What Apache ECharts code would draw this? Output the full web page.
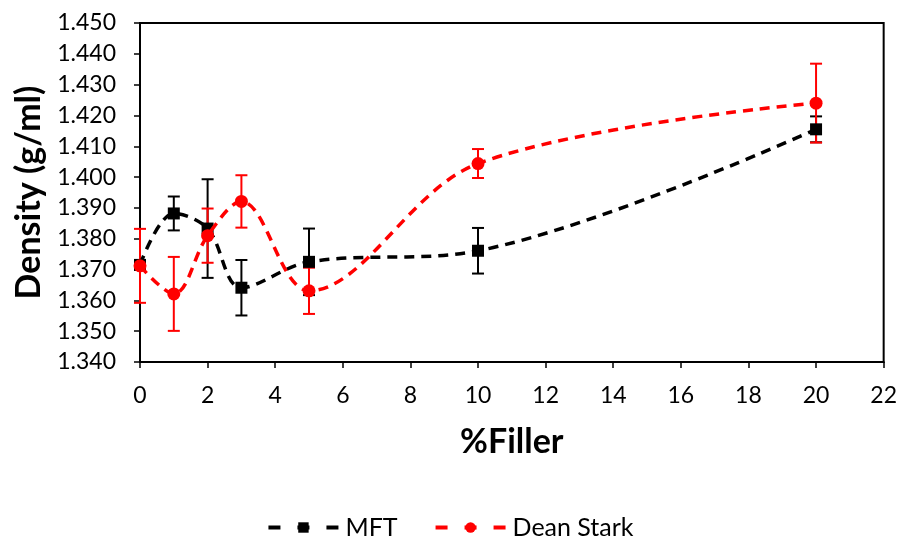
<!DOCTYPE html>
<html>
<head>
<meta charset="utf-8">
<script src="https://cdn.jsdelivr.net/npm/echarts@6/dist/echarts.min.js"></script>
<style>
  html, body { margin: 0; padding: 0; background: #fff; }
  #chart { width: 900px; height: 537px; }
</style>
</head>
<body>
<div id="chart"></div>
<script>
// Filler content (%) for each measurement
const filler = [0, 1, 2, 3, 5, 10, 20];

// MFT density (g/ml) and its error
const mftDensity = [1.3715, 1.3882, 1.3833, 1.3641, 1.3725, 1.3761, 1.4155];
const mftError   = [0.0000, 0.0055, 0.0160, 0.0090, 0.0108, 0.0074, 0.0042];

// Dean Stark density (g/ml) and its error
const dsDensity = [1.3712, 1.3621, 1.3810, 1.3921, 1.3631, 1.4044, 1.4240];
const dsError   = [0.0120, 0.0120, 0.0088, 0.0085, 0.0075, 0.0047, 0.0128];

const seriesNames = ['MFT', 'Dean Stark'];
const FONT = 'Lato, "Open Sans", sans-serif';

function points(xs, ys) { return xs.map((x, i) => [x, ys[i]]); }
function errRows(xs, ys, es) { return xs.map((x, i) => [x, ys[i] - es[i], ys[i] + es[i]]); }

function errorBars(color) {
  return function (params, api) {
    const x = api.value(0);
    const lo = api.coord([x, api.value(1)]);
    const hi = api.coord([x, api.value(2)]);
    const cap = 6;
    const style = { stroke: color, lineWidth: 2 };
    return {
      type: 'group',
      children: [
        { type: 'line', shape: { x1: lo[0], y1: lo[1], x2: hi[0], y2: hi[1] }, style },
        { type: 'line', shape: { x1: lo[0] - cap, y1: lo[1], x2: lo[0] + cap, y2: lo[1] }, style },
        { type: 'line', shape: { x1: hi[0] - cap, y1: hi[1], x2: hi[0] + cap, y2: hi[1] }, style }
      ]
    };
  };
}

const chart = echarts.init(document.getElementById('chart'), null, { renderer: 'canvas' });

chart.setOption({
  animation: false,
  backgroundColor: '#fff',
  grid: {
    left: 140, right: 16, top: 23, bottom: 175,
    show: true, borderColor: '#000', borderWidth: 2, backgroundColor: 'transparent'
  },
  legend: {
    top: 510,
    left: 'center',
    itemWidth: 70,
    itemHeight: 13,
    itemGap: 36,
    data: seriesNames,
    lineStyle: { width: 4, type: [12, 17] },
    textStyle: { fontFamily: FONT, fontSize: 25, color: '#000', padding: [0, 0, 0, 2] }
  },
  xAxis: {
    type: 'value',
    min: 0, max: 22, interval: 2,
    name: '%Filler',
    nameLocation: 'middle',
    nameGap: 63,
    nameTextStyle: { fontFamily: FONT, fontSize: 34, fontWeight: 'bold', color: '#000' },
    axisLine: { onZero: false, lineStyle: { color: '#000', width: 2 } },
    axisTick: { show: true, inside: false, length: 6, lineStyle: { color: '#000', width: 1.5 } },
    axisLabel: { fontFamily: FONT, fontSize: 23, color: '#000', margin: 22 },
    splitLine: { show: false }
  },
  yAxis: {
    type: 'value',
    min: 1.34, max: 1.45, interval: 0.01,
    name: 'Density (g/ml)',
    nameLocation: 'middle',
    nameGap: 91,
    nameTextStyle: { fontFamily: FONT, fontSize: 34, fontWeight: 'bold', color: '#000' },
    axisLine: { lineStyle: { color: '#000', width: 2 } },
    axisTick: { show: true, inside: false, length: 6, lineStyle: { color: '#000', width: 1.5 } },
    axisLabel: {
      fontFamily: FONT, fontSize: 23, color: '#000', margin: 24,
      formatter: v => v.toFixed(3)
    },
    splitLine: { show: false }
  },
  series: [
    {
      name: 'MFT',
      type: 'line',
      data: points(filler, mftDensity),
      smooth: 0.35,
      symbol: 'rect',
      symbolSize: 12,
      itemStyle: { color: '#000' },
      lineStyle: { color: '#000', width: 3.5, type: [10, 7] },
      z: 3
    },
    {
      name: 'Dean Stark',
      type: 'line',
      data: points(filler, dsDensity),
      smooth: 0.35,
      symbol: 'circle',
      symbolSize: 13,
      itemStyle: { color: '#ff0000' },
      lineStyle: { color: '#ff0000', width: 3.5, type: [10, 7] },
      z: 4
    },
    {
      name: 'MFT',
      type: 'custom',
      renderItem: errorBars('#000'),
      data: errRows(filler, mftDensity, mftError),
      encode: { x: 0, y: [1, 2] },
      z: 2
    },
    {
      name: 'Dean Stark',
      type: 'custom',
      renderItem: errorBars('#ff0000'),
      data: errRows(filler, dsDensity, dsError),
      encode: { x: 0, y: [1, 2] },
      z: 2
    }
  ]
});
</script>
</body>
</html>
